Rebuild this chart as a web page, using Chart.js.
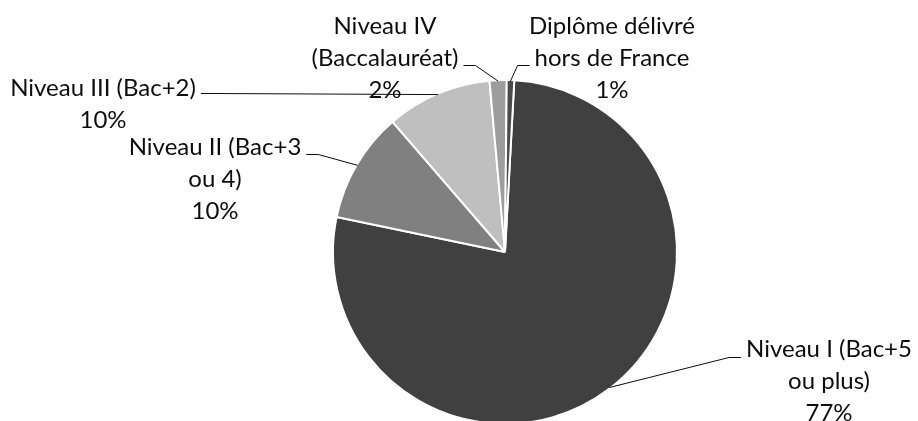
<!DOCTYPE html>
<html>
<head>
<meta charset="utf-8">
<script src="https://cdn.jsdelivr.net/npm/chart.js@4"></script>
<style>
  html, body { margin: 0; padding: 0; background: #fff; overflow: hidden; }
  #wrap { width: 918px; height: 421px; overflow: hidden; }
</style>
</head>
<body>
<div id="wrap"><canvas id="chart" width="918" height="440"></canvas></div>
<script>
// data
const categories = [
  ['Niveau I (Bac+5', 'ou plus)'],
  ['Niveau II (Bac+3', 'ou 4)'],
  ['Niveau III (Bac+2)'],
  ['Niveau IV', '(Baccalauréat)'],
  ['Diplôme délivré', 'hors de France']
];
const shares = [77.4, 10.4, 9.9, 1.6, 0.7];
const sliceColors = ['#404040', '#808080', '#bfbfbf', '#9d9d9d', '#4a4a4a'];

// where each label sits and how its leader line attaches
const labelLayout = [
  { x: 829, y: 349, line: 0, side: 'left', lineY: 357 },
  { x: 215, y: 147, line: 0, side: 'right', lineY: 154 },
  { x: 103, y: 88, line: 0, side: 'right', lineY: 93 },
  { x: 385, y: 26, line: 1, side: 'right', lineY: 65 },
  { x: 612, y: 26, line: 1, side: 'left', lineY: 65 }
];

const FONT = '24px Lato';
const LINE_H = 32;

const labelPlugin = {
  id: 'pieLabels',
  afterDraw(chart) {
    const ctx = chart.ctx;
    const meta = chart.getDatasetMeta(0);
    const total = shares.reduce((a, b) => a + b, 0);
    ctx.save();
    ctx.font = FONT;
    ctx.fillStyle = '#0d0d0d';
    ctx.textAlign = 'center';
    ctx.textBaseline = 'middle';
    meta.data.forEach((arc, i) => {
      const p = arc.getProps(['x', 'y', 'startAngle', 'endAngle', 'outerRadius'], true);
      const lay = labelLayout[i];
      const lines = categories[i].concat(Math.round(shares[i] / total * 100) + '%');
      lines.forEach((t, k) => ctx.fillText(t, lay.x, lay.y + k * LINE_H));

      // leader line: arc middle -> elbow -> text edge
      const mid = (p.startAngle + p.endAngle) / 2;
      const ax = p.x + Math.cos(mid) * (p.outerRadius - 1);
      const ay = p.y + Math.sin(mid) * (p.outerRadius - 1);
      const w = ctx.measureText(lines[lay.line]).width;
      const dir = lay.side === 'right' ? 1 : -1;
      const tx = lay.x + dir * (w / 2 + 5);
      const ex = tx + dir * 12;
      ctx.beginPath();
      ctx.moveTo(ax, ay);
      ctx.lineTo(ex, lay.lineY + 0.5);
      ctx.lineTo(tx, lay.lineY + 0.5);
      ctx.strokeStyle = '#0d0d0d';
      ctx.lineWidth = 1;
      ctx.stroke();
    });
    ctx.restore();
  }
};

new Chart(document.getElementById('chart'), {
  type: 'pie',
  data: {
    labels: categories,
    datasets: [{
      data: shares,
      backgroundColor: sliceColors,
      borderColor: '#ffffff',
      borderWidth: 2
    }]
  },
  options: {
    responsive: false,
    animation: false,
    rotation: 3.1,
    layout: { padding: { top: 79, left: 332, right: 240, bottom: 15 } },
    plugins: {
      legend: { display: false },
      tooltip: { enabled: false }
    }
  },
  plugins: [labelPlugin]
});
</script>
</body>
</html>
